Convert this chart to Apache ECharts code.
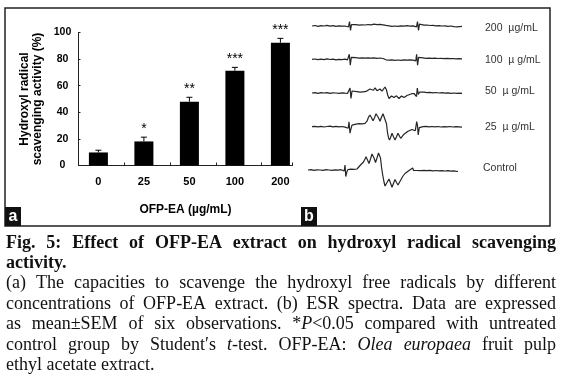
<!DOCTYPE html>
<html><head><meta charset="utf-8">
<script src="https://cdn.jsdelivr.net/npm/echarts@6/dist/echarts.min.js"></script>
<style>html,body{margin:0;padding:0;background:#fff}#c{width:568px;height:389px}</style>
</head><body><div id="c"></div><script>
// ---------- Panel (a) data ----------
const categories = ['0', '25', '50', '100', '200'];
const activity = [9.8, 18.1, 48.0, 71.3, 92.3];
const sem = [1.7, 3.2, 3.3, 2.5, 3.3];
const significance = ['', '*', '**', '***', '***'];
const yTickMax = 100, yTickStep = 20;

// ---------- Panel (b) ESR spectra (field position, signal amplitude) ----------
const spectraLabels = ['200  \u00b5g/mL', '100  \u00b5 g/mL', '50  \u00b5 g/mL', '25  \u00b5 g/mL', 'Control'];
const spec200 = [[0,0],[3,0.5],[6,-0.3],[9,0.4],[12,0],[15,0.6],[18,-0.2],[21,0.3],[24,-0.4],[27,0.2],[30,-0.2],[33,0],[35,-0.5],[36.5,-1],[37.5,4.5],[38.5,-4.5],[39.5,1.5],[41,1],[44,1.3],[47,0.8],[50,1.2],[53,1],[56,1.5],[59,1.2],[62,1.8],[65,1.4],[68,1.6],[71,1.2],[74,0.6],[77,0.2],[80,-0.4],[83,0],[86,-0.3],[89,0.2],[92,-0.2],[95,0.3],[98,-0.1],[101,0.2],[103,-0.2],[104.5,-0.8],[105.5,4.5],[106.5,-4.5],[107.5,1.8],[109,1],[112,0.8],[115,1],[118,0.5],[121,0.7],[124,0.2],[127,0.4],[130,0],[133,0.2],[136,-0.3],[139,0],[142,-0.6],[145,-0.8],[147,-0.3],[150,-0.4]];
const spec100 = [[0,0],[3,0.3],[6,-0.4],[9,0.2],[12,-0.3],[15,0.5],[18,-0.2],[21,0.2],[24,-0.6],[27,0],[30,-0.3],[33,0.2],[35.5,-0.5],[36.5,-1.2],[37.3,5],[38.3,-6],[39.3,2],[41,1.3],[44,1.6],[47,1.2],[50,1.5],[53,1.2],[56,1.4],[59,1.1],[62,1.4],[65,1.0],[68,1.3],[71,0.8],[74,-0.5],[77,-0.9],[80,-0.6],[83,-1],[86,-0.7],[89,-1],[92,-0.6],[95,-0.9],[98,-0.5],[101,-0.8],[103,-0.8],[103.8,-1.5],[104.6,5],[105.6,-6],[106.6,2],[108,1.2],[111,1.4],[114,1],[117,1.2],[120,0.9],[123,1.1],[126,0.8],[129,1],[132,0.7],[135,0.9],[138,0.6],[141,0.8],[144,0.5],[147,0.7],[150,0.5]];
const spec50 = [[0,0],[3,0.3],[6,-0.3],[9,0.4],[12,0],[15,0.3],[18,-0.4],[21,0.2],[24,0],[27,-0.3],[30,0.2],[33,-0.2],[35.5,-0.5],[37,-1.5],[38,5],[39,-5.5],[40,2],[42,1],[45,1.3],[48,0.8],[51,1.2],[54,1.6],[56,2.2],[58,4],[60,2.5],[61.5,2.8],[63,5.2],[65,2.3],[66.5,2.5],[68,4],[70,1.8],[71.5,3],[73,6],[74.5,3],[75.7,-2],[77,-5.5],[78,-6.3],[79.5,-3],[80.5,-2.2],[82,-4.5],[83,-5],[84.5,-2.8],[85.5,-2.4],[87,-5.5],[88,-6],[89.5,-3],[90.5,-2.5],[92,-4.5],[93,-5],[95,-2.5],[97,-1.5],[99.7,-0.7],[102,-0.5],[103.5,-1],[104.5,-3.5],[105.3,5],[106.3,-1.5],[107.5,0.8],[109,0.4],[112,0.8],[115,0.3],[118,0.6],[121,0.2],[124,0.5],[127,0],[130,0.4],[133,-0.2],[136,0.1],[139,-0.3],[142,0],[145,-0.4],[148,-0.2],[150,-0.3]];
const spec25 = [[0,0],[3,0.4],[6,-0.2],[9,0.3],[12,-0.3],[15,0.2],[18,0.5],[21,-0.2],[24,0.3],[27,-0.1],[30,0.2],[33,-0.4],[35,-0.6],[36.2,-1.5],[37,5],[38,-6.5],[39,-2],[40,1.5],[42,1.8],[44,2.5],[47,3],[50,2.8],[53,3.4],[55,5.5],[56.5,9.5],[58,11.7],[59.5,9],[61,6],[62.5,9],[64,13],[65.3,13.4],[66.5,9],[68,5.5],[69.5,9.5],[71,13],[72,13.4],[73,11],[74.5,3],[75.5,-6],[76.5,-11],[77.5,-13.3],[78.5,-11],[80,-6.5],[81.5,-10],[83,-13.3],[84.5,-10],[86,-6.5],[87.5,-9.5],[88.7,-11.6],[90,-10],[92,-7.5],[94,-6],[96,-4.5],[98,-3.3],[100,-2.8],[102,-3],[103.3,-4],[104,-2],[104.7,5],[105.5,1],[106.2,-8.3],[107.3,-1],[108.5,0.3],[111,0],[114,0.3],[117,-0.2],[120,0.2],[123,-0.1],[126,0.2],[129,-0.3],[132,0.1],[135,-0.2],[138,0.2],[141,-0.3],[144,0],[147,-0.2],[150,-0.4]];
const specControl = [[0,0],[3,0.3],[6,-0.3],[9,0.2],[12,0],[15,-0.4],[18,0.3],[21,0],[24,-0.3],[27,0.2],[30,-0.2],[33,0.3],[35,0],[36.2,-1],[37,5],[37.8,-6.5],[38.8,-2],[40,0.5],[43,0.8],[46,0.6],[49,1],[51,2],[52.5,5],[54,6.7],[55.5,8],[57,11],[58,13.3],[59.5,10],[61,6.5],[62.5,11],[64,16],[64.7,16.7],[66,12],[67.5,7.5],[69,12],[70.5,17],[71.3,17.3],[72.5,12],[73.5,3],[74.7,-5],[76,-12],[77,-16],[78,-17.3],[79,-15],[81,-9],[82.5,-13],[84,-17.3],[85,-16],[87,-9.5],[88.5,-12.5],[90,-15],[91.5,-13.5],[93,-9.5],[95,-6],[97,-3.5],[98.7,-1.7],[101,-0.5],[103,0],[104.7,2],[105.5,-0.5],[107,-1.5],[108,-0.5],[110,-0.2],[113,-0.6],[116,-0.3],[119,-0.7],[122,-0.4],[125,-0.8],[128,-0.5],[131,-0.9],[134,-0.6],[137,-1],[140,-0.7],[143,-1.1],[146,-0.9],[149,-1.5],[150,-1.3]];
const spectra = [spec200, spec100, spec50, spec25, specControl];

// ---------- Caption text ----------
const captionLines = [
  {segs: [['Fig.  5: Effect of OFP-EA extract on hydroxyl radical scavenging', 'b']], justify: true},
  {segs: [['activity.', 'b']], justify: false},
  {segs: [['(a) The capacities to scavenge the hydroxyl free radicals by different', 'n']], justify: true},
  {segs: [['concentrations of OFP-EA extract. (b) ESR spectra. Data are expressed', 'n']], justify: true},
  {segs: [['as mean\u00b1SEM of six observations. *', 'n'], ['P', 'i'], ['<0.05 compared with untreated', 'n']], justify: true},
  {segs: [['control group by Student\u2032s ', 'n'], ['t', 'i'], ['-test. OFP-EA: ', 'n'], ['Olea europaea', 'i'], [' fruit pulp', 'n']], justify: true},
  {segs: [['ethyl acetate extract.', 'n']], justify: false}
];

// ---------- layout ----------
const SANS = '"Liberation Sans", Arial, sans-serif';
const SERIF = '"Liberation Serif", serif';
const CAP = {left: 6, right: 556, size: 18, ys: [243, 263, 283.5, 304, 324.5, 345, 365.5]};
const traceBase = [26, 59.3, 93, 126.7, 170];
const traceLeft = [312, 312, 312, 312, 308];
const labelY = [28, 60, 91, 127, 168];

const chart = echarts.init(document.getElementById('c'), null, {renderer: 'canvas'});

// caption justification
const mctx = document.createElement('canvas').getContext('2d');
function fontStr(s) {
  return (s === 'i' ? 'italic ' : '') + (s === 'b' ? 'bold ' : '') + CAP.size + 'px ' + SERIF;
}
function measure(t, s) { mctx.font = fontStr(s); return mctx.measureText(t).width; }
const rich = {
  n: {fontFamily: SERIF, fontSize: CAP.size, fill: '#111'},
  b: {fontFamily: SERIF, fontSize: CAP.size, fontWeight: 'bold', fill: '#111'},
  i: {fontFamily: SERIF, fontSize: CAP.size, fontStyle: 'italic', fill: '#111'}
};
const graphics = [];
captionLines.forEach((line, li) => {
  const words = []; let cur = [];
  line.segs.forEach(([t, s]) => {
    t.split(' ').forEach((p, k) => {
      if (k > 0) { if (cur.length) words.push(cur); cur = []; }
      if (p) cur.push([p, s]);
    });
  });
  if (cur.length) words.push(cur);
  const widths = words.map(w => w.reduce((a, [t, s]) => a + measure(t, s), 0));
  const total = widths.reduce((a, b) => a + b, 0);
  const gap = line.justify && words.length > 1 ? (CAP.right - CAP.left - total) / (words.length - 1) : measure(' ', line.segs[0][1]);
  let x = CAP.left;
  words.forEach((w, k) => {
    graphics.push({type: 'text', x: x, y: CAP.ys[li], silent: true,
      style: {text: w.map(([t, s]) => '{' + s + '|' + t + '}').join(''), rich: rich, verticalAlign: 'middle'}});
    x += widths[k] + gap;
  });
});

// frame and panel letters
graphics.push({type: 'rect', shape: {x: 5, y: 8, width: 545, height: 218}, style: {fill: null, stroke: '#222', lineWidth: 1.5}, silent: true});
[['a', 5], ['b', 301]].forEach(([t, x]) => {
  graphics.push({type: 'rect', shape: {x: x, y: 207, width: 16, height: 19}, style: {fill: '#111'}, silent: true});
  graphics.push({type: 'text', x: x + 8, y: 217, silent: true,
    style: {text: t, fill: '#fff', font: 'bold 16px ' + SANS, align: 'center', verticalAlign: 'middle'}});
});
spectraLabels.forEach((t, k) => {
  graphics.push({type: 'text', x: k === 4 ? 483 : 485, y: labelY[k], silent: true,
    style: {text: t, fill: '#333', font: '10.5px ' + SANS, verticalAlign: 'middle'}});
});

const grids = [
  {left: 75.65, width: 227.5, top: 32.5, height: 133},
  {left: 78.5, width: 214, top: 32.5, height: 133}
];
const xAxes = [
  {gridIndex: 0, type: 'category', data: categories, axisLine: {show: false}, axisTick: {show: false},
   axisLabel: {margin: 11, color: '#000', fontFamily: SANS, fontWeight: 'bold', fontSize: 11}},
  {gridIndex: 1, type: 'value', min: 0, max: 214 / 45.8, interval: 1,
   axisLine: {show: true, lineStyle: {color: '#222', width: 1}},
   axisTick: {show: true, inside: true, length: 3, lineStyle: {color: '#222'}},
   axisLabel: {show: false}, splitLine: {show: false},
   name: 'OFP-EA (\u00b5g/mL)', nameLocation: 'middle', nameGap: 38,
   nameTextStyle: {color: '#000', fontFamily: SANS, fontWeight: 'bold', fontSize: 12}}
];
const yAxes = [
  {gridIndex: 0, type: 'value', min: 0, max: yTickMax, show: false, splitLine: {show: false}},
  {gridIndex: 1, type: 'value', min: 0, max: yTickMax, interval: yTickStep,
   axisLine: {show: true, lineStyle: {color: '#222', width: 1}},
   axisTick: {show: true, inside: true, length: 2, lineStyle: {color: '#222'}},
   axisLabel: {margin: 16, align: 'center', color: '#000', fontFamily: SANS, fontWeight: 'bold', fontSize: 10.5},
   splitLine: {show: false},
   name: 'Hydroxyl radical\nscavenging activity (%)', nameLocation: 'middle', nameRotate: 90, nameGap: 34,
   nameTextStyle: {color: '#000', fontFamily: SANS, fontWeight: 'bold', fontSize: 12, lineHeight: 13.5}}
];
const series = [
  {type: 'bar', xAxisIndex: 0, yAxisIndex: 0, data: activity, barWidth: 19, itemStyle: {color: '#000'}, silent: true},
  {type: 'custom', xAxisIndex: 0, yAxisIndex: 0, silent: true,
   data: activity.map((v, i) => [i, v, sem[i]]),
   renderItem: function (params, api) {
     const i = api.value(0);
     const base = api.coord([i, api.value(1)]);
     const top = api.coord([i, api.value(1) + api.value(2)]);
     const st = {stroke: '#000', lineWidth: 1};
     return {type: 'group', children: [
       {type: 'line', shape: {x1: base[0], y1: base[1], x2: top[0], y2: top[1]}, style: st},
       {type: 'line', shape: {x1: top[0] - 3, y1: top[1], x2: top[0] + 3, y2: top[1]}, style: st},
       {type: 'text', x: top[0], y: top[1] - 8,
        style: {text: significance[params.dataIndex], fill: '#000', font: '14px ' + SANS, align: 'center', verticalAlign: 'middle'}}
     ]};
   }}
];
spectra.forEach((d, k) => {
  const gi = grids.length;
  grids.push({left: traceLeft[k], width: 150, top: traceBase[k] - 20, height: 40});
  xAxes.push({gridIndex: gi, type: 'value', min: 0, max: 150, show: false, splitLine: {show: false}});
  yAxes.push({gridIndex: gi, type: 'value', min: -20, max: 20, show: false, splitLine: {show: false}});
  series.push({type: 'line', xAxisIndex: gi, yAxisIndex: gi, data: d, showSymbol: false, silent: true,
    lineStyle: {color: '#262626', width: 1.2}});
});

chart.setOption({
  animation: false,
  backgroundColor: '#fff',
  grid: grids, xAxis: xAxes, yAxis: yAxes, series: series,
  graphic: graphics
});
</script></body></html>
